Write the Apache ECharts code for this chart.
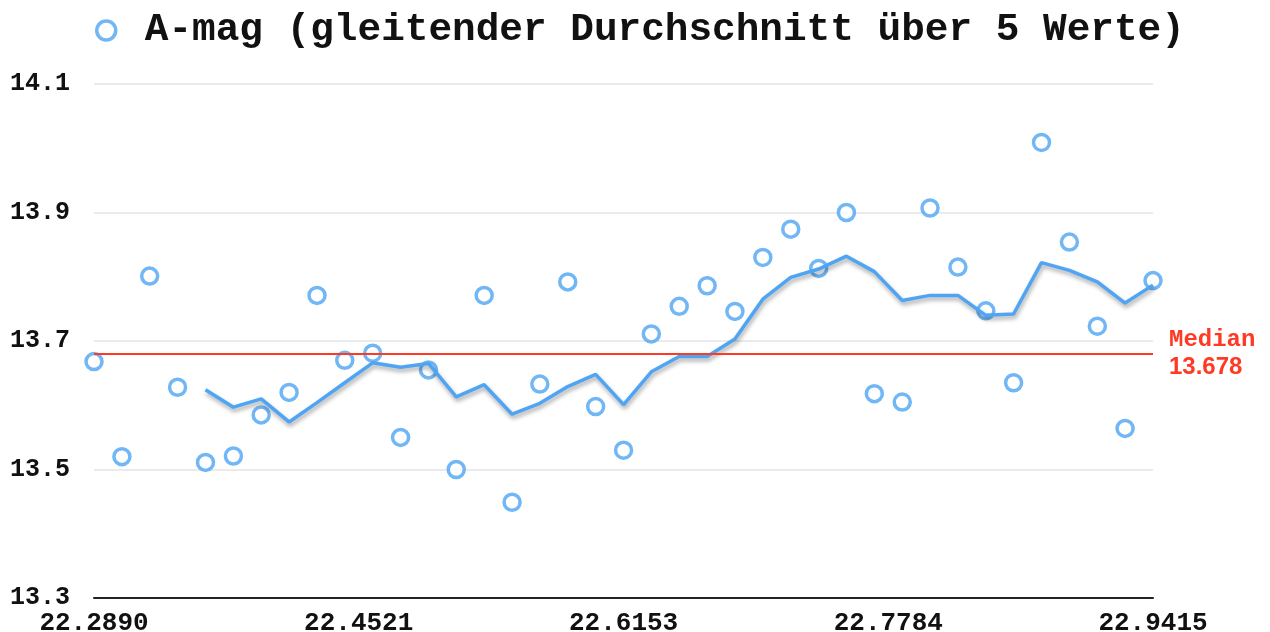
<!DOCTYPE html>
<html>
<head>
<meta charset="utf-8">
<title>A-mag</title>
<script src="https://cdn.jsdelivr.net/npm/echarts@6/dist/echarts.min.js"></script>
<style>
  html, body { margin: 0; padding: 0; background: #fff; }
  #chart { width: 1270px; height: 632px; }
</style>
</head>
<body>
<div id="chart"></div>
<script>
// Julianisches Datum (Ausschnitt), Helligkeit A-mag, gleitender Durchschnitt
const jd = [
  22.2890, 22.3062, 22.3233, 22.3405, 22.3577, 22.3749, 22.3920, 22.4092,
  22.4264, 22.4435, 22.4607, 22.4779, 22.4951, 22.5122, 22.5294, 22.5466,
  22.5637, 22.5809, 22.5981, 22.6153, 22.6324, 22.6496, 22.6668, 22.6839,
  22.7011, 22.7183, 22.7355, 22.7526, 22.7698, 22.7870, 22.8041, 22.8213,
  22.8385, 22.8556, 22.8728, 22.8900, 22.9072, 22.9243, 22.9415
];
const mag = [
  13.668, 13.520, 13.801, 13.628, 13.511, 13.521, 13.585, 13.620,
  13.771, 13.670, 13.681, 13.550, 13.655, 13.500, 13.771, 13.449,
  13.633, 13.792, 13.598, 13.530, 13.711, 13.754, 13.786, 13.746,
  13.830, 13.874, 13.813, 13.900, 13.618, 13.605, 13.907, 13.815,
  13.747, 13.635, 14.009, 13.854, 13.723, 13.564, 13.794
];
// Durchschnitt beginnt beim 5. Wert
const avg = [
  13.624, 13.597, 13.610, 13.574, 13.604, 13.635, 13.666, 13.659,
  13.665, 13.613, 13.632, 13.586, 13.603, 13.629, 13.648, 13.601,
  13.652, 13.676, 13.676, 13.703, 13.765, 13.799, 13.812, 13.832,
  13.808, 13.763, 13.771, 13.771, 13.740, 13.742, 13.822, 13.810,
  13.792, 13.759, 13.787
];
const median = 13.678;
const xTicks = [22.2890, 22.4521, 22.6153, 22.7784, 22.9415];
const yTicks = [13.3, 13.5, 13.7, 13.9, 14.1];

const seriesName = "A-mag (gleitender Durchschnitt über 5 Werte)";
const blue = "#4fa5f3";
const red = "#ff3a24";
const mono = "'Liberation Mono', 'DejaVu Sans Mono', monospace";

const chart = echarts.init(document.getElementById("chart"));
chart.setOption({
  animation: false,
  grid: { left: 94, right: 117, top: 84, bottom: 34, outerBoundsMode: "none" },
  legend: {
    data: [{ name: seriesName, icon: "circle" }],
    left: 90,
    top: 6,
    itemWidth: 19,
    itemHeight: 19,
    itemStyle: { color: "#fff", borderColor: blue, borderWidth: 3.5 },
    textStyle: {
      fontFamily: mono,
      fontWeight: "bold",
      fontSize: 39.4,
      color: "#111",
      padding: [0, 0, 0, 24],
    },
  },
  xAxis: {
    type: "value",
    min: 22.289,
    max: 22.9415,
    axisLine: { show: true, onZero: false, lineStyle: { color: "#222", width: 2 } },
    axisTick: { show: false, customValues: xTicks },
    splitLine: { show: false },
    axisLabel: {
      customValues: xTicks,
      margin: 12,
      fontFamily: mono,
      fontWeight: "bold",
      fontSize: 26,
      color: "#111",
      formatter: (v) => v.toFixed(4),
    },
  },
  yAxis: {
    type: "value",
    min: 13.3,
    max: 14.1,
    axisLine: { show: false },
    axisTick: { show: false, customValues: yTicks },
    splitLine: { show: true, lineStyle: { color: "#e4e4e4", width: 1.5 } },
    axisLabel: {
      customValues: yTicks,
      margin: 24,
      fontFamily: mono,
      fontWeight: "bold",
      fontSize: 25,
      color: "#111",
      formatter: (v) => v.toFixed(1),
    },
  },
  series: [
    {
      name: seriesName,
      type: "scatter",
      symbol: "circle",
      symbolSize: 16,
      itemStyle: { color: "#fff", borderColor: blue, borderWidth: 3.5 },
      data: jd.map((x, i) => [x, mag[i]]),
      z: 2,
      markLine: {
        silent: true,
        symbol: "none",
        lineStyle: { color: red, width: 2, type: "solid" },
        label: {
          position: "end",
          distance: 16,
          formatter: "{a|Median}\n{b|" + median.toFixed(3) + "}",
          rich: {
            a: { fontFamily: mono, fontWeight: "bold", fontSize: 24, color: red, lineHeight: 27 },
            b: { fontFamily: "'Liberation Sans', Arial, sans-serif", fontWeight: "bold", fontSize: 24, color: red, lineHeight: 27 },
          },
          align: "left",
        },
        data: [{ yAxis: median }],
      },
    },
    {
      name: "Durchschnitt",
      type: "line",
      showSymbol: false,
      symbol: "none",
      data: avg.map((v, i) => [jd[i + 4], v]),
      lineStyle: {
        color: blue,
        width: 3.5,
        shadowColor: "rgba(0,0,0,0.35)",
        shadowBlur: 4,
        shadowOffsetX: 1,
        shadowOffsetY: 3,
      },
      z: 3,
    },
  ],
});
</script>
</body>
</html>
